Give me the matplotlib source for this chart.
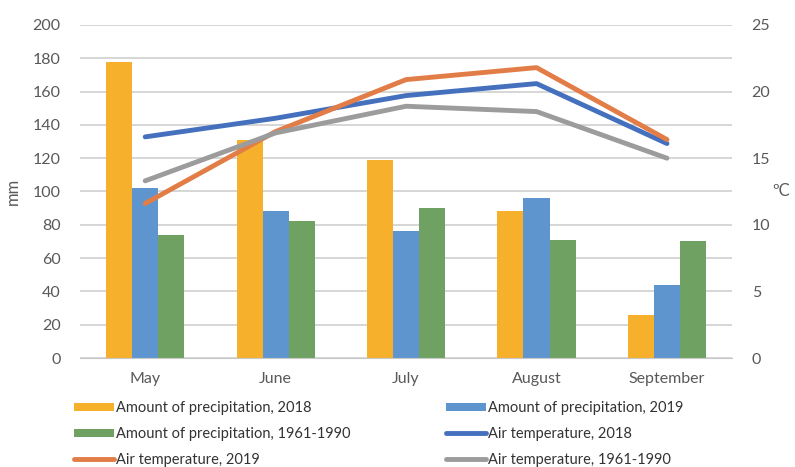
import numpy as np
import matplotlib
matplotlib.use("Agg")
import matplotlib.pyplot as plt

months = ["May", "June", "July", "August", "September"]
prec_2018 = [178, 131, 119, 88, 26]
prec_2019 = [102, 88, 76, 96, 44]
prec_norm = [74, 82, 90, 71, 70]
temp_2018 = [16.6, 18.0, 19.7, 20.6, 16.1]
temp_2019 = [11.6, 17.0, 20.9, 21.8, 16.4]
temp_norm = [13.3, 16.9, 18.9, 18.5, 15.0]

plt.rcParams["font.family"] = ["Lato", "DejaVu Sans"]
TXT = "#595959"

fig = plt.figure(figsize=(7.95, 4.67), dpi=100)
ax = fig.add_axes([0.1006, 0.2334, 0.8204, 0.7131])
ax2 = ax.twinx()

x = np.arange(len(months))
w = 0.2
b1 = ax.bar(x - w, prec_2018, w, color="#F6B02C", label="Amount of precipitation, 2018", zorder=2)
b2 = ax.bar(x, prec_2019, w, color="#5F95CE", label="Amount of precipitation, 2019", zorder=2)
b3 = ax.bar(x + w, prec_norm, w, color="#6FA162", label="Amount of precipitation, 1961-1990", zorder=2)

ax.set_ylim(0, 200)
ax.set_yticks(range(0, 201, 20))
ax.set_xlim(-0.5, 4.5)
ax.set_xticks(x)
ax.set_xticklabels(months)
ax.yaxis.grid(True, color="#D0D0D0", lw=1.2, zorder=0)
ax.set_axisbelow(True)
ax.set_ylabel("mm", color=TXT, fontsize=12, labelpad=8)

l1, = ax2.plot(x, temp_2018, color="#4470BE", lw=3.5, solid_capstyle="round", label="Air temperature, 2018")
l2, = ax2.plot(x, temp_2019, color="#E27D47", lw=3.5, solid_capstyle="round", label="Air temperature, 2019")
l3, = ax2.plot(x, temp_norm, color="#9C9C9C", lw=3.5, solid_capstyle="round", label="Air temperature, 1961-1990")
ax2.set_ylim(0, 25)
ax2.set_yticks(range(0, 26, 5))
ax2.set_ylabel("\u00baC", color=TXT, fontsize=12, rotation=0, labelpad=8, va="center")

for a in (ax, ax2):
    for s in a.spines.values():
        s.set_visible(False)
    a.tick_params(length=0, colors=TXT, labelsize=11.5)
ax.spines["bottom"].set_visible(True)
ax.spines["bottom"].set_color("#C8C8C8")
ax.tick_params(axis="y", pad=14)
ax2.tick_params(axis="y", pad=14)
ax.tick_params(axis="x", pad=10)

kw = dict(frameon=False, fontsize=10.5, handlelength=2.75, handleheight=0.5,
          handletextpad=0.15, labelspacing=0.82, labelcolor="#333333", borderaxespad=0,
          borderpad=0)
leg1 = fig.legend([b1, b3, l2], [b1.get_label(), b3.get_label(), l2.get_label()],
                  loc="upper left", bbox_to_anchor=(0.093, 0.141), **kw)
leg2 = fig.legend([b2, l1, l3], [b2.get_label(), l1.get_label(), l3.get_label()],
                  loc="upper left", bbox_to_anchor=(0.561, 0.141), **kw)

fig.savefig("out.png", dpi=100)
